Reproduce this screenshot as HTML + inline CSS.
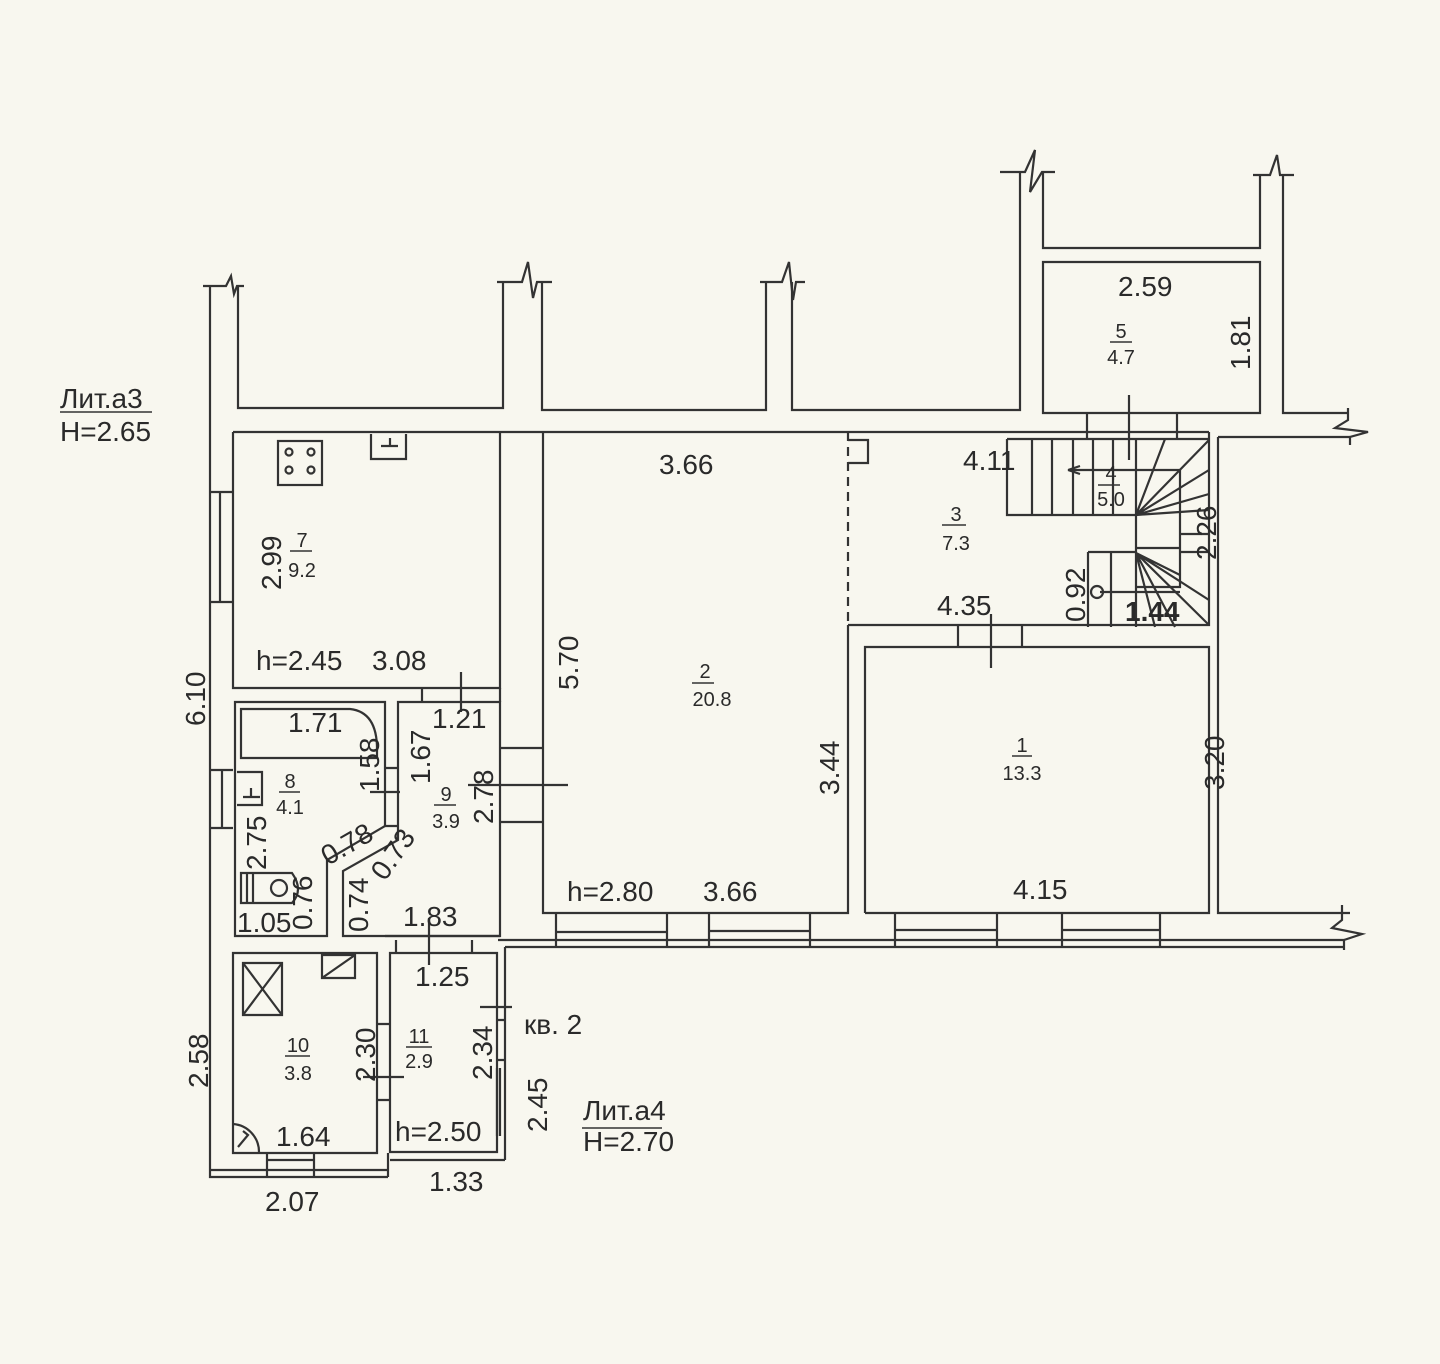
<!DOCTYPE html>
<html><head><meta charset="utf-8">
<style>
html,body{margin:0;padding:0;background:#f8f7ef;}
svg{display:block}
text{font-family:"Liberation Sans",sans-serif;fill:#2a2a2a}
</style></head><body>
<svg width="1440" height="1364" viewBox="0 0 1440 1364" xmlns="http://www.w3.org/2000/svg">
<rect width="1440" height="1364" fill="#f8f7ef"/>
<g fill="none" stroke="#333" stroke-width="2.2">
<path d="M203,286 H226 L231,276 L234,294 L237,286 H244"/>
<path d="M210,286 V1177 H388"/>
<path d="M238,286 V408 H503 V282"/>
<path d="M497,282 H522 L528,262 L533,298 L537,282 H552"/>
<path d="M542,282 V410 H766 V282"/>
<path d="M760,282 H782 L789,262 L793,300 L796,282 H805"/>
<path d="M792,282 V410 H1020 V172"/>
<path d="M1000,172 H1025 L1035,150 L1030,192 L1042,172 H1055"/>
<path d="M1043,172 V248 H1260 V175"/>
<path d="M1253,175 H1270 L1277,155 L1280,175 H1294"/>
<path d="M1283,175 V413 H1348"/>
<path d="M1348,408 V420 L1335,428 L1368,432 L1350,437 V445"/>
<path d="M1043,262 H1260 V413 H1043 Z"/>
<path d="M1087,413 V438 M1177,413 V438"/>
<path d="M233,432 H1209"/>
<path d="M1218,437 H1350"/>
<path d="M233,432 V688 H500 V432"/>
<path d="M543,432 V913 H848 V625"/>
<path d="M848,432 V625" stroke-dasharray="9,6"/>
<path d="M848,440 H868 V463 H848"/>
<path d="M848,625 H1209 V432"/>
<path d="M865,913 V647 H1209 V913 H865"/>
<path d="M958,625 V647 M1022,625 V647"/>
<path d="M1218,437 V913 H1350"/>
<path d="M1342,905 V920 L1332,928 L1362,934 L1344,940 V950"/>
<path d="M505,947 V1160 M505,947 H1345 M510,940 H1345 M498,940 H510"/>
<path d="M556,913 V947 M667,913 V947 M709,913 V947 M810,913 V947 M895,913 V947 M997,913 V947 M1062,913 V947 M1160,913 V947"/>
<path d="M556,932 H667 M709,931 H810 M895,930 H997 M1062,930 H1160"/>
<path d="M210,492 H233 M210,602 H233 M220,492 V602"/>
<path d="M210,770 H233 M210,828 H233 M222,770 V828"/>
<path d="M235,702 H385 V826 L327,860 V936 H235 Z"/>
<path d="M385,768 H398 M385,826 H398"/>
<path d="M398,702 H500 V936 H343 V871 L398,840 Z"/>
<path d="M500,748 H543 M500,822 H543"/>
<path d="M422,688 V702 M500,688 V702"/>
<path d="M241,709 H350 Q378,712 377,752 V758 H241 Z"/>
<path d="M237,772 H262 V805 H237 M243,797 H260 M251,788 V797"/>
<path d="M241,873 H292 Q304,890 292,903 H241 Z M247,873 V903 M253,873 V903"/>
<circle cx="279" cy="888" r="8"/>
<rect x="278" y="441" width="44" height="44"/>
<circle cx="289" cy="452" r="3.5"/><circle cx="311" cy="452" r="3.5"/><circle cx="289" cy="470" r="3.5"/><circle cx="311" cy="470" r="3.5"/>
<path d="M371,434 V459 H406 V434 M381,446 H398 M390,438 V446"/>
<path d="M233,953 H377 V1153 H233 Z"/>
<path d="M377,1024 H390 M377,1100 H390"/>
<path d="M243,963 H282 V1015 H243 Z M243,963 L282,1015 M282,963 L243,1015"/>
<path d="M322,955 H355 V978 H322 Z M322,978 L355,955"/>
<path d="M233,1124 A28,28 0 0 1 259,1152 M238,1147 L248,1135 L243,1131"/>
<path d="M267,1153 V1177 M314,1153 V1177 M267,1160 H314 M267,1170 H314 M210,1170 H388"/>
<path d="M388,1153 V1177"/>
<path d="M390,953 H497 V1152 H390 Z"/>
<path d="M390,1160 H505 M497,1020 H505 M497,1060 H505 M497,1068 V1136 M500,1068 V1136"/>
<path d="M396,940 V953 M472,940 V953 M385,936 H500"/>
<path d="M1007,439 H1209 M1007,439 V515 H1136 V627 M1032,439 V515 M1052,439 V515 M1073,439 V515 M1093,439 V515 M1113,439 V515 M1136,439 V515"/>
<path d="M1136,470 H1180 V587 H1136 M1180,534 H1209 M1180,552 H1209 M1136,548 H1180 M1088,552 H1136 M1088,552 V627 M1111,552 V627 M1100,592 H1180"/>
<path d="M1136,515 L1165,439 M1136,515 L1209,440 M1136,515 L1209,470 M1136,515 L1209,494 M1136,515 L1209,510"/>
<path d="M1136,553 L1209,600 M1136,553 L1209,625 M1136,553 L1175,627 M1136,553 L1155,627 M1136,553 L1180,575"/>
<path d="M1068,470 H1136 M1068,470 L1080,466 M1068,470 L1080,474"/>
<circle cx="1097" cy="592" r="6"/>
<path d="M1129,395 V460 M461,672 V712 M370,792 H400 M468,785 H568 M991,614 V668 M429,918 V965 M480,1007 H512 M363,1077 H404"/>
</g>
<g stroke="#333" stroke-width="1.5">
<path d="M60,412 H152 M582,1128 H662"/>
<path d="M290,551 H312 M279,792 H300 M434,805 H456 M692,683 H714 M1012,756 H1032 M1110,342 H1132 M942,525 H966 M1098,485 H1120 M285,1056 H310 M406,1047 H432"/>
</g>
<g font-size="28">
<text x="60" y="408">Лит.а3</text>
<text x="60" y="441">H=2.65</text>
<text x="583" y="1120">Лит.а4</text>
<text x="583" y="1151">H=2.70</text>
<text x="524" y="1034">кв. 2</text>
<text x="1118" y="296">2.59</text>
<text x="659" y="474">3.66</text>
<text x="963" y="470">4.11</text>
<text x="937" y="615">4.35</text>
<text x="1125" y="621" font-weight="bold">1.44</text>
<text x="372" y="670">3.08</text>
<text x="256" y="670" fill="#555">h=2.45</text>
<text x="288" y="732">1.71</text>
<text x="432" y="728">1.21</text>
<text x="403" y="926">1.83</text>
<text x="415" y="986">1.25</text>
<text x="237" y="932">1.05</text>
<text x="276" y="1146">1.64</text>
<text x="395" y="1141" fill="#555">h=2.50</text>
<text x="567" y="901" fill="#555">h=2.80</text>
<text x="703" y="901">3.66</text>
<text x="1013" y="899">4.15</text>
<text x="429" y="1191">1.33</text>
<text x="265" y="1211">2.07</text>
</g>
<g font-size="28">
<text transform="translate(1250,370) rotate(-90)">1.81</text>
<text transform="translate(281,590) rotate(-90)">2.99</text>
<text transform="translate(205,726) rotate(-90)">6.10</text>
<text transform="translate(578,690) rotate(-90)">5.70</text>
<text transform="translate(839,795) rotate(-90)">3.44</text>
<text transform="translate(1224,790) rotate(-90)">3.20</text>
<text transform="translate(1216,560) rotate(-90)">2.26</text>
<text transform="translate(1085,622) rotate(-90)">0.92</text>
<text transform="translate(379,792) rotate(-90)">1.58</text>
<text transform="translate(430,784) rotate(-90)">1.67</text>
<text transform="translate(493,824) rotate(-90)">2.78</text>
<text transform="translate(266,870) rotate(-90)">2.75</text>
<text transform="translate(312,930) rotate(-90)">0.76</text>
<text transform="translate(328,866) rotate(-30)">0.78</text>
<text transform="translate(385,882) rotate(-55)">0.73</text>
<text transform="translate(368,932) rotate(-90)">0.74</text>
<text transform="translate(375,1082) rotate(-90)">2.30</text>
<text transform="translate(492,1080) rotate(-90)">2.34</text>
<text transform="translate(547,1132) rotate(-90)">2.45</text>
<text transform="translate(208,1088) rotate(-90)">2.58</text>
</g>
<g font-size="20" text-anchor="middle">
<text x="1121" y="338">5</text><text x="1121" y="364">4.7</text>
<text x="302" y="547">7</text><text x="302" y="577">9.2</text>
<text x="705" y="678">2</text><text x="712" y="706">20.8</text>
<text x="956" y="521">3</text><text x="956" y="550">7.3</text>
<text x="1111" y="480">4</text><text x="1111" y="506">5.0</text>
<text x="1022" y="752">1</text><text x="1022" y="780">13.3</text>
<text x="290" y="788">8</text><text x="290" y="814">4.1</text>
<text x="446" y="801">9</text><text x="446" y="828">3.9</text>
<text x="298" y="1052">10</text><text x="298" y="1080">3.8</text>
<text x="419" y="1043">11</text><text x="419" y="1068">2.9</text>
</g>
</svg>
</body></html>
